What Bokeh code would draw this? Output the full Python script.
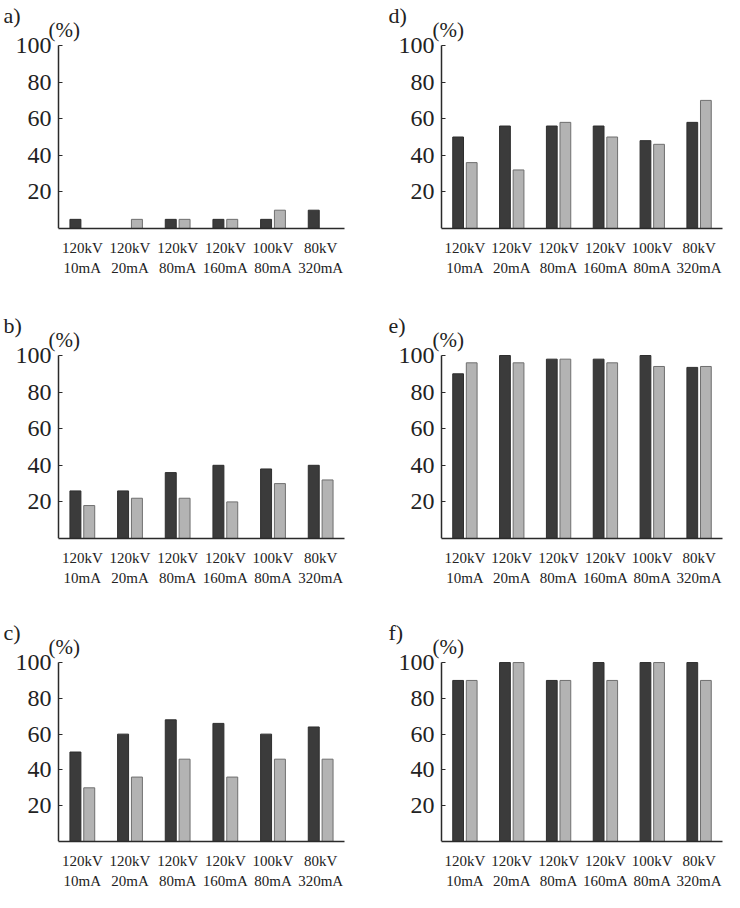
from bokeh.plotting import figure
from bokeh.layouts import gridplot
from bokeh.models import Label, FixedTicker, Range1d
from bokeh.transform import dodge
from bokeh.embed import file_html
from bokeh.resources import INLINE

# ---- data -------------------------------------------------------------
categories = ["120kV\n10mA", "120kV\n20mA", "120kV\n80mA",
              "120kV\n160mA", "100kV\n80mA", "80kV\n320mA"]
y_ticks = [20, 40, 60, 80, 100]

a_dark = [5, 0, 5, 5, 5, 10]
a_light = [0, 5, 5, 5, 10, 0]
b_dark = [26, 26, 36, 40, 38, 40]
b_light = [18, 22, 22, 20, 30, 32]
c_dark = [50, 60, 68, 66, 60, 64]
c_light = [30, 36, 46, 36, 46, 46]
d_dark = [50, 56, 56, 56, 48, 58]
d_light = [36, 32, 58, 50, 46, 70]
e_dark = [90, 100, 98, 98, 100, 93.5]
e_light = [96, 96, 98, 96, 94, 94]
f_dark = [90, 100, 90, 100, 100, 100]
f_light = [90, 100, 90, 90, 100, 90]

panels = {
    "a)": (a_dark, a_light), "b)": (b_dark, b_light), "c)": (c_dark, c_light),
    "d)": (d_dark, d_light), "e)": (e_dark, e_light), "f)": (f_dark, f_light),
}

DARK = "#3b3b3b"
LIGHT = "#b3b3b3"
LIGHT_EDGE = "#6f6f6f"
AXIS = "#2a2a2a"
TEXT = "#222222"
SERIF = "Liberation Serif"

n = len(categories)
centers = [i + 0.5 for i in range(n)]
PX_PER_100 = 183.0


def make_panel(name, dark, light, width, height, axis_px, axis_end_px,
               bottom, name_dx, pct_dx):
    # frame fills the figure; the y axis is fixed at x = 0 inside it
    frame_h = height - bottom
    px_per_x = (axis_end_px - axis_px) / n
    x_start = -axis_px / px_per_x
    x_end = x_start + width / px_per_x
    y_end = frame_h / (PX_PER_100 / 100.0)

    p = figure(x_range=Range1d(x_start, x_end), y_range=Range1d(0, y_end),
               width=width, height=height,
               output_backend="svg", toolbar_location=None,
               min_border_left=0, min_border_right=0,
               min_border_top=0, min_border_bottom=bottom)
    src = dict(x=centers, dark=dark, light=light)
    p.vbar(x=dodge("x", -0.145), top="dark", width=0.23, source=src,
           fill_color=DARK, line_color="#2e2e2e", line_width=1)
    p.vbar(x=dodge("x", 0.145), top="light", width=0.23, source=src,
           fill_color=LIGHT, line_color=LIGHT_EDGE, line_width=1)

    p.grid.visible = False
    p.outline_line_color = None
    p.background_fill_color = "white"
    p.border_fill_color = "white"

    ya = p.yaxis[0]
    ya.fixed_location = 0
    ya.bounds = (0, 100)
    ya.ticker = FixedTicker(ticks=y_ticks)
    ya.minor_tick_line_color = None
    ya.major_tick_in = 4
    ya.major_tick_out = 0
    ya.major_tick_line_color = AXIS
    ya.axis_line_color = AXIS
    ya.axis_line_width = 1.5
    ya.major_label_text_font = SERIF
    ya.major_label_text_font_size = "24px"
    ya.major_label_text_color = TEXT
    ya.major_label_standoff = 7

    xa = p.xaxis[0]
    xa.bounds = (0, n)
    xa.ticker = FixedTicker(ticks=centers)
    xa.major_label_overrides = {c: lab for c, lab in zip(centers, categories)}
    xa.major_tick_line_color = None
    xa.minor_tick_line_color = None
    xa.axis_line_color = AXIS
    xa.axis_line_width = 1.5
    xa.major_label_text_font = SERIF
    xa.major_label_text_font_size = "15px"
    xa.major_label_text_color = TEXT
    xa.major_label_text_line_height = 1.3
    xa.major_label_standoff = 5
    xa.major_label_orientation = "horizontal"

    p.add_layout(Label(x=0, y=100, x_offset=pct_dx, y_offset=16, text="(%)",
                       text_font=SERIF, text_font_size="21px",
                       text_color=TEXT, text_baseline="middle"))
    p.add_layout(Label(x=0, y=100, x_offset=name_dx, y_offset=30, text=name,
                       text_font=SERIF, text_font_size="22px",
                       text_color=TEXT, text_baseline="middle"))
    return p


heights = [310, 310, 272]
bottoms = [82, 82, 46]
left_names = ["a)", "b)", "c)"]
right_names = ["d)", "e)", "f)"]
rows = []
for i in range(3):
    ln, rn = left_names[i], right_names[i]
    pl = make_panel(ln, *panels[ln], width=370, height=heights[i],
                    axis_px=58, axis_end_px=344, bottom=bottoms[i],
                    name_dx=-55, pct_dx=-10)
    pr = make_panel(rn, *panels[rn], width=354, height=heights[i],
                    axis_px=71, axis_end_px=352, bottom=bottoms[i],
                    name_dx=-53, pct_dx=-9)
    rows.append([pl, pr])

layout = gridplot(rows, toolbar_location=None, merge_tools=False)

open("out.html", "w").write(file_html(layout, INLINE))
